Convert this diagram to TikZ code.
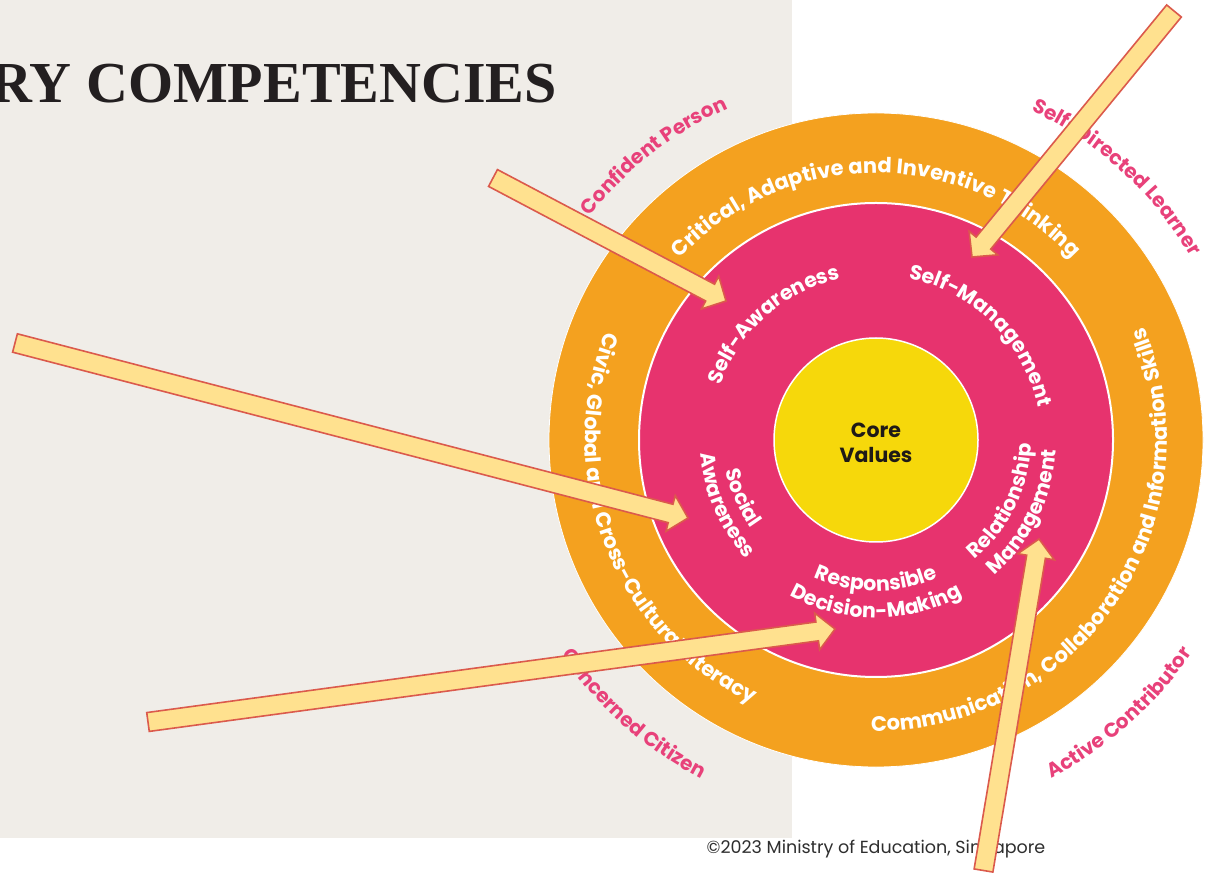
\documentclass[tikz,border=0pt]{standalone}
\usepackage{fontspec}
\usetikzlibrary{calc,decorations.text}
\newfontfamily\gotham{Poppins}
\newfontfamily\titlefont{Liberation Serif}
\definecolor{bgbeige}{HTML}{F0EDE8}
\definecolor{ringorange}{HTML}{F4A11F}
\definecolor{ringpink}{HTML}{E7336E}
\definecolor{coreyellow}{HTML}{F6D80B}
\definecolor{lblpink}{HTML}{E8417A}
\definecolor{arrowfill}{HTML}{FFE18F}
\definecolor{arrowline}{HTML}{DB5A4C}
\definecolor{titlecol}{HTML}{231F20}
\definecolor{darktext}{HTML}{1F1A17}
\definecolor{copytext}{HTML}{2E2E2E}
\newcommand\ringfont{\gotham\bfseries\fontsize{21}{21}\selectfont\color{white}}
\newcommand\labfont{\gotham\bfseries\fontsize{20}{20}\selectfont\color{lblpink}}
\newcommand\innerfont{\gotham\bfseries\fontsize{20.5}{20.5}\selectfont\color{white}}
\newcommand\cwtext[4]{\path[decorate,decoration={text along path,text align=center,text={#4}}] ($(C)+(#2+#3:#1)$) arc[start angle=#2+#3, end angle=#2-#3, radius=#1];}
\newcommand\ccwtext[4]{\path[decorate,decoration={text along path,text align=center,text={#4}}] ($(C)+(#2-#3:#1)$) arc[start angle=#2-#3, end angle=#2+#3, radius=#1];}
\newcommand\blockarrow[2]{%
  \coordinate (hb) at ($(#2)!18pt!(#1)$);
  \draw[blockarr] ($(#1)!9.5pt!90:(#2)$) -- ($(hb)!9.5pt!90:(#2)$) -- ($(hb)!18.5pt!90:(#2)$) -- (#2) -- ($(hb)!18.5pt!-90:(#2)$) -- ($(hb)!9.5pt!-90:(#2)$) -- ($(#1)!9.5pt!-90:(#2)$) -- cycle;}
\tikzset{
  blockarr/.style={fill=arrowfill, draw=arrowline, line width=1.6pt, line join=miter},
}
\begin{document}
\begin{tikzpicture}[x=1pt,y=1pt]
\useasboundingbox (0,0) rectangle (1217,873);
\fill[white] (0,0) rectangle (1217,873);
\fill[bgbeige] (0,35) rectangle (792,873);
\node[anchor=base east, font=\titlefont\bfseries\fontsize{58}{58}\selectfont, text=titlecol, inner sep=0] (title) at (557,770) {RY COMPETENCIES};
\coordinate (C) at (876,433);
\fill[ringorange] (C) circle[radius=327];
\draw[white, line width=0.8pt] (C) circle[radius=327];
\draw[fill=ringpink, draw=white, line width=2pt] (C) circle[radius=237];
\draw[fill=coreyellow, draw=white, line width=1.5pt] (C) circle[radius=102];
\node[font=\gotham\bfseries\fontsize{20.5}{25}\selectfont, text=darktext, align=center] (core) at (876,430) {Core\\Values};
% ring texts
\cwtext{267}{90}{85}{|\ringfont|Critical, Adaptive and Inventive Thinking}
\ccwtext{291}{201.5}{85}{|\ringfont|Civic, Global and Cross-Cultural Literacy}
\ccwtext{291}{326}{85}{|\ringfont|Communication, Collaboration and Information Skills}
% outer labels
\cwtext{363}{128}{40}{|\labfont|Confident Person}
\cwtext{364}{47.5}{40}{|\labfont|Self-Directed Learner}
\ccwtext{381}{228.5}{40}{|\labfont|Concerned Citizen}
\ccwtext{381}{311.7}{40}{|\labfont|Active Contributor}
% inner pink texts
\cwtext{165}{131.5}{70}{|\innerfont|Self-Awareness}
\cwtext{165}{45}{70}{|\innerfont|Self-Management}
\ccwtext{153}{203.5}{60}{|\innerfont|Social}
\ccwtext{176}{203.5}{60}{|\innerfont|Awareness}
\ccwtext{151}{270}{70}{|\innerfont|Responsible}
\ccwtext{178}{270}{70}{|\innerfont|Decision-Making}
\ccwtext{155}{334}{60}{|\innerfont|Relationship}
\ccwtext{180}{334}{60}{|\innerfont|Management}
% copyright
\node[font=\gotham\fontsize{17.5}{17.5}\selectfont, text=copytext, inner sep=0] (copy) at (876,24) {©2023 Ministry of Education, Singapore};
% arrows
\coordinate (t1) at (493,695); \coordinate (p1) at (726,572);
\coordinate (t2) at (1174,862); \coordinate (p2) at (972,616);
\coordinate (t3) at (15,530); \coordinate (p3) at (688,355);
\coordinate (t4) at (148,151); \coordinate (p4) at (835,244);
\coordinate (t5) at (983.5,2.5); \coordinate (p5) at (1039,334);
\blockarrow{t1}{p1}
\blockarrow{t2}{p2}
\blockarrow{t3}{p3}
\blockarrow{t4}{p4}
\blockarrow{t5}{p5}
\end{tikzpicture}
\end{document}
